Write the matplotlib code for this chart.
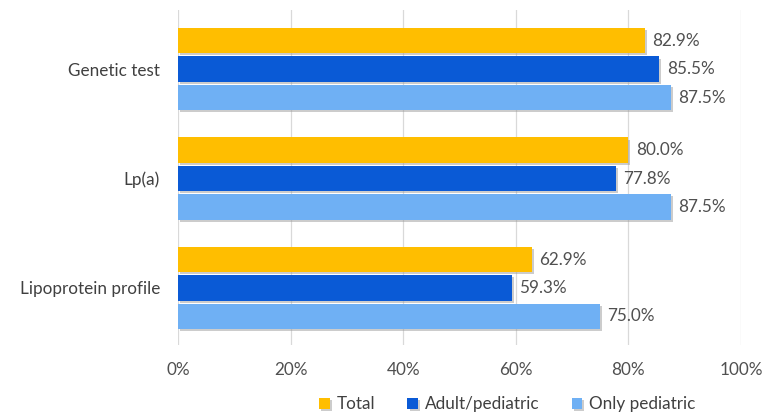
import numpy as np
import matplotlib.pyplot as plt
import matplotlib.patheffects as pe

# data
categories = ['Genetic test', 'Lp(a)', 'Lipoprotein profile']
series = ['Total', 'Adult/pediatric', 'Only pediatric']
total = [82.9, 80.0, 62.9]
adult_ped = [85.5, 77.8, 59.3]
only_ped = [87.5, 87.5, 75.0]
colors = ['#FFBE00', '#0A5AD6', '#6FB0F4']

plt.rcParams['font.family'] = ['Lato', 'DejaVu Sans']
fs = 12.3

fig = plt.figure(figsize=(7.65, 4.16), dpi=100)
ax = fig.add_axes([0.2327, 0.171, 0.7359, 0.805])

ypos = np.arange(len(categories))
step = 0.26
height = 0.23
shadow = [pe.SimplePatchShadow(offset=(1.5, -1.5), shadow_rgbFace='#9a9a9a', alpha=0.5), pe.Normal()]

for i, (name, vals) in enumerate(zip(series, [total, adult_ped, only_ped])):
    y = ypos + (i - 1) * step
    bars = ax.barh(y, vals, height=height, color=colors[i], label=name, zorder=3)
    for b in bars:
        b.set_path_effects(shadow)
    for yy, v in zip(y, vals):
        ax.text(v + 1.3, yy, f'{v:.1f}%', va='center', ha='left', fontsize=fs, color='#505050')

ax.set_xlim(0, 100)
ax.set_ylim(2.52, -0.54)
ax.set_yticks(ypos)
ax.set_yticklabels(categories, fontsize=fs, color='#404040')
ax.set_xticks(np.arange(0, 101, 20))
ax.set_xticklabels([f'{t}%' for t in range(0, 101, 20)], fontsize=fs, color='#505050')
ax.tick_params(axis='both', length=0)
ax.tick_params(axis='x', pad=12)
ax.tick_params(axis='y', pad=13)
ax.grid(axis='x', color='#D9D9D9', linewidth=0.9, zorder=0)
for s in ax.spines.values():
    s.set_visible(False)

fig.legend(loc='center', bbox_to_anchor=(0.663, 0.028), ncol=3, frameon=False,
           handlelength=0.6, handleheight=0.6, handletextpad=0.4, columnspacing=1.9,
           fontsize=fs, labelcolor='#404040')

fig.savefig('out.png', dpi=100)
